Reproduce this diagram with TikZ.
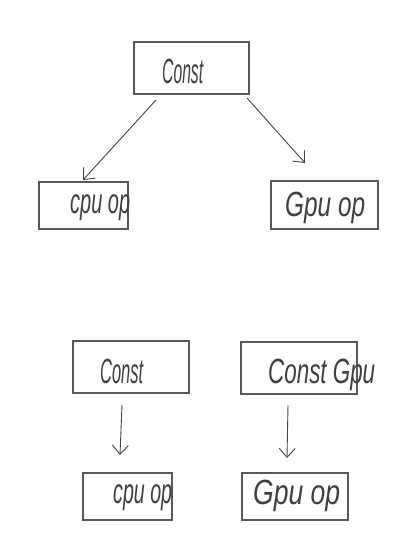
\documentclass[tikz,border=0pt]{standalone}
\usepackage{fontspec}
\setmainfont{Liberation Sans}
\usetikzlibrary{arrows.meta,calc}
\definecolor{boxgray}{HTML}{595959}
\definecolor{linegray}{HTML}{454545}
\newcommand\handtext[2]{\resizebox{#1pt}{\height}{\fontsize{35}{40}\selectfont\itshape #2}}
\begin{document}
\begin{tikzpicture}[x=1pt,y=-1pt,
  box/.style={draw=boxgray, line width=1.5pt, inner sep=0pt, outer sep=0pt},
  conn/.style={draw=linegray, line width=0.9pt, -{Straight Barb[length=9pt,width=16pt]}},
  lbl/.style={anchor=base west, inner sep=0pt, text=black!75}]
\useasboundingbox[fill=white] (0,0) rectangle (418,549);
% boxes
\node[box, minimum width=115pt, minimum height=52pt] (const) at (191.5,68) {};
\node[box, minimum width=89pt, minimum height=47pt] (cpu) at (83.5,205.5) {};
\node[box, minimum width=107pt, minimum height=48pt] (gpu) at (324.5,205) {};
\node[box, minimum width=116pt, minimum height=52pt] (constA) at (131,367) {};
\node[box, minimum width=116pt, minimum height=52pt] (constB) at (299,368) {};
\node[box, minimum width=89pt, minimum height=47pt] (cpuC) at (127.5,496.5) {};
\node[box, minimum width=106pt, minimum height=47pt] (gpuD) at (295,496.5) {};
% labels
\node[lbl] (t1) at (162,83) {\handtext{41}{Const}};
\node[lbl] (t2) at (70,213) {\handtext{60}{cpu op}};
\node[lbl] (t3) at (285,216) {\handtext{80}{Gpu op}};
\node[lbl] (t4) at (100,383) {\handtext{43}{Const}};
\node[lbl] (t5) at (268,383) {\handtext{107}{Const Gpu}};
\node[lbl] (t6) at (113,503) {\handtext{59}{cpu op}};
\node[lbl] (t7) at (253,504) {\handtext{87}{Gpu op}};
% connector end points
\coordinate (a1s) at ($(const.south)+(-35.5,6)$);
\coordinate (a1e) at ($(cpu.north)+(-0.5,-2)$);
\coordinate (a2s) at ($(const.south east)+(-2,4)$);
\coordinate (a2e) at ($(gpu.north)+(-19.5,-18)$);
\coordinate (a3s) at ($(constA.south)+(-9,12)$);
\coordinate (a3e) at ($(cpuC.north)+(-7.5,-18)$);
\coordinate (a4s) at ($(constB.south)+(-11,11)$);
\coordinate (a4e) at ($(gpuD.north)+(-8,-15)$);
\draw[conn] (a1s) -- (a1e);
\draw[conn] (a2s) -- (a2e);
\draw[conn] (a3s) -- (a3e);
\draw[conn] (a4s) -- (a4e);
\end{tikzpicture}
\end{document}
